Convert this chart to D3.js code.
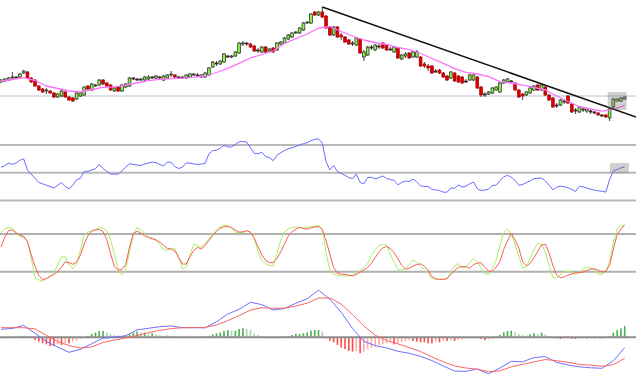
<!DOCTYPE html>
<html>
<head>
<meta charset="utf-8">
<script src="https://cdn.jsdelivr.net/npm/d3@7"></script>
<style>
  body { margin: 0; background: #fff; }
  svg { display: block; }
</style>
</head>
<body>
<div id="chart"></div>
<script>
// --- OHLC (one entry per candle) ---
const opens = [48,49,50,52,53,53,57,58,52,50, 44,41,39,39,37,33,34,38,33,32, 31,34,35,44,40,44,45,50,47,45,
  39,43,39,43,44,52,51,50,50,51, 53,52,53,50,52,55,55,53,52,52, 53,55,55,53,53,55,63,67,66,68,
  74,73,74,77,86,87,86,84,80,78, 83,79,82,80,86,87,91,93,97,97, 100,107,107,118,115,118,114,103,95,103,
  95,93,90,87,85,91,73,75,83,80, 84,87,85,81,78,82,71,74,77,73, 73,73,66,64,64,59,60,57,54,52,
  57,54,53,49,50,50,53,43,36,36, 37,40,38,47,48,49,47,40,36,35, 37,40,45,40,43,35,32,25,25,29,
  34,26,20,18,21,19,19,18,17,15, 15,12,23,29,29,31];
const highs = [51,52,53,58,54,57,60,59,53,51, 45,42,42,40,38,37,40,39,34,33, 38,38,44,45,47,46,51,51,48,46,
  43,44,46,47,53,53,52,52,54,55, 54,55,54,55,56,59,56,54,54,56, 57,57,57,56,58,63,69,69,70,77,
  75,75,79,88,89,88,87,85,82,84, 84,82,83,88,89,93,96,98,99,103, 108,109,117,119,119,123,115,104,104,104,
  97,94,91,89,93,92,80,84,85,86, 87,88,86,83,84,83,76,78,78,79, 80,74,68,66,65,61,61,58,55,59,
  58,55,54,51,56,57,54,44,38,39, 43,44,48,51,52,50,48,41,37,39, 43,45,46,46,44,36,33,27,31,31,
  35,27,22,24,22,22,21,19,18,16, 16,23,32,32,33,34];
const lows = [47,48,49,51,51,52,56,51,47,43, 39,37,36,36,32,32,33,32,29,28, 30,33,34,40,39,43,44,45,43,39,
  38,38,38,42,43,50,49,49,49,50, 51,51,51,49,51,53,52,51,51,51, 52,54,53,52,52,54,62,64,65,67,
  72,72,73,76,84,84,82,78,77,77, 77,78,77,79,85,86,90,92,96,96, 99,106,106,114,114,112,101,94,94,92,
  90,87,85,84,84,76,69,74,80,79, 81,81,79,79,77,71,70,72,71,72, 72,63,62,59,56,57,56,52,49,51,
  48,47,46,47,49,49,41,33,33,35, 36,39,37,46,47,47,39,32,30,34, 36,39,39,39,34,29,22,22,24,26,
  26,17,16,17,18,17,16,16,14,13, 12,9,22,28,28,30];
const closes = [50,51,52,53,52,56,59,52,48,44, 40,38,40,37,33,36,39,33,30,29, 37,37,43,41,46,45,50,46,44,40,
  42,39,45,46,52,51,50,51,53,53, 52,54,52,54,55,56,53,52,53,55, 56,56,54,55,57,62,68,66,69,76,
  73,74,78,87,87,86,83,79,79,83, 78,81,78,87,88,92,95,97,98,102, 107,108,116,115,118,113,102,95,103,93,
  93,88,86,86,92,77,78,83,82,85, 83,82,80,80,83,72,75,76,72,78, 78,64,64,62,57,58,57,53,50,58,
  49,48,47,48,55,55,42,35,35,38, 42,43,47,50,51,48,40,33,34,38, 42,44,40,45,35,30,23,24,30,28,
  27,18,19,23,20,21,18,17,15,14, 13,22,31,31,32,33];

// moving average, read every 3rd candle
const maStep = 3;
const maVals = [49,50.5,52.3,49.5,44,41.5,39,38,40.5,42.7,43.2,44.8,47,49.3,50.7,51.3,51.9,52.8,54,57.5,
  61.6,66.6,72,75.5,79,86.6,91.3,96,102,103.5,98.5,94,90,87.5,85.5,82.5,80.3,76.5,71.5,66.7,
  61.3,57.7,56,53.4,48.3,47,44.8,42.7,40,34,28.5,23.5,21,18.8,20.7,24.7];

// trend line (candle index, price) and marker levels
const trendLine = [[85, 123], [168, 13]];
const priceMark = 34;
const priceBox = { from: 160.5, to: 165.5, low: 20, high: 38 };

// --- RSI ---
const rsiLevels = [30, 50, 70];
const rsiVals = [54,55,57,56,57,59,60,52,49,46, 43,42,41,40,39,41,43,40,38.5,41, 45,46,51,51,52,53,56,53,51,49,
  49,49,51.5,54,56.5,56,55.5,55.3,56.3,57, 57.7,57.3,56,54.8,57.7,57.5,54.5,53,54,57, 57,56.3,56,56.3,56.8,63.5,66,66.3,67.6,69.8,
  68.6,68.5,70.5,72.2,72.6,72.1,68,64,63.7,64.8, 61.6,61,58.7,62.6,64.5,66,67.2,68,69,70, 71,71.7,73.2,74,74.5,71.2,58,52,55.2,51,
  49.5,48.2,46.5,45.8,49,43,42,46.5,46.7,45.6, 46.5,47.7,45.8,45.2,44.5,41.3,43,44,43.7,45.5, 43.3,40.6,40,40.2,38,37.6,37.2,36,36,39,
  38.8,41.2,39.7,40.3,42,43.3,38.5,37.3,37.5,38.2, 40.8,41,44.5,47,48.2,46.7,44.4,41,41.5,42.9, 44.2,45.8,46,46.2,44.2,41,37.7,39.6,40.3,40,
  39.2,37.9,36.5,40.3,39.8,39,38.1,37.5,37,36.6, 36.1,45,51.2,52.3,53.5,54.3];
const rsiBox = { from: 161.1, to: 166.1, low: 49.8, high: 57 };

// --- Stochastic ---
const stochLevels = [20, 80];
const stochK = [82,88.5,90,89,82,76,74.7,69,42,10.5, 7,5,9,13.5,19,31,43.5,44,31,25, 33,54,78,83,85,87.5,90,89,85,70,
  48,23,15,25,52,78,90,87,81,75, 74,70,63,56,54,57.5,57,43,24,28, 47,64,61.5,58.5,65,72,80,87,91.5,94,
  93.5,89,83,82,82.5,85,82.5,74,51,38, 33,30,29.5,49,70,83,88,90,91.5,90.6, 89.5,90,91.7,92.5,93.5,88,50,22,15.5,14.5,
  13.5,13.1,13.1,14.5,18,21.5,26.8,32.8,46,55, 61.5,63,63,48,35,23,23,25,32,38.6, 34.5,28.5,23.5,16.5,9.2,8.3,7.8,7.8,9.5,19,
  28.8,33,25.8,27.8,35,40.5,35,26,16.8,16, 25.5,38,62,82,88,80,63,44,25.7,28.5, 41,54.5,65,64,51.5,31,11,9.6,15.5,19.7,
  21,19.5,15.5,18.8,23.5,27.8,26.4,22.8,16,16.3, 20.6,35,67,88,93,94.3];
const stochD = [59.3,74.9,85.5,86.5,81.8,78.3,76.1,67.7,47,28.5, 14,7.2,9.2,12.2,15.5,20.6,27,35.8,34.5,31.8, 35,46,64,77,84.6,86.5,87.3,84,71,48.7,
  28,23,23.5,31.7,59,81,84.3,81.7,77,74.4, 72.2,70.7,67,62,57,56,53,43,32.2,32.2, 44,54,58.8,56,62,69.5,77.5,84,89.2,91.3,
  92.2,90,86.5,83,83.5,85.3,83,73.3,60,46.5, 38,34.3,34.3,41,51.5,64.5,76.5,83.7,87.9,90.4, 89,87.6,89.5,91,92,87.3,69,47.7,26.6,17.7,
  16,15.7,14.5,13.3,15.8,19,22.7,26.6,33.6,42.4, 51.6,58,60,56.9,50.2,40.5,30,24,25.5,29, 31.5,32.4,28.8,22,12.2,8.6,7.8,7.8,8.9,15.5,
  21.8,27,28.2,28,25.3,31.4,33.7,34.3,26.8,21.2, 20.4,27.3,36,55.5,69,81,70.5,57.5,35.6,29.6, 33.2,42.2,52.7,62.5,63.8,49.8,30,14.3,10.3,11.8,
  14.7,16.3,18.4,18.4,19.5,22.1,24.2,24.5,22.5,19.5, 20.3,30.4,56.1,78.7,88.2,93.8];

// --- MACD (lines read every 3rd candle, histogram per candle) ---
const macdVals = [0.8,0.89,1.19,0.4,-0.42,-0.98,-1.5,-1.2,-0.64,-0.09,0.01,0.16,0.74,0.9,1.06,1.14,0.96,0.97,0.94,1.55,
  2.33,2.8,3.5,3.27,2.73,2.88,3.4,3.85,4.72,3.8,2.5,0.88,-0.4,-0.84,-1.06,-1.4,-1.6,-1.9,-2.33,-2.87,
  -3.37,-3.4,-3.17,-3.65,-3.07,-2.4,-2.45,-2.03,-1.93,-2.5,-2.77,-2.95,-3.05,-3.1,-2.35,-1.04];
const signalVals = [0.96,0.96,0.96,0.84,0.2,-0.42,-0.83,-1.08,-0.97,-0.51,-0.28,-0.06,0.17,0.46,0.7,0.87,0.96,0.96,0.99,1.22,
  1.67,2.18,2.72,2.95,2.9,2.92,3.12,3.42,3.92,3.93,3.32,2.28,1.14,0.2,-0.32,-0.66,-1.03,-1.42,-1.97,-2.45,
  -2.86,-3.07,-3.2,-3.44,-3.36,-2.95,-2.7,-2.46,-2.22,-2.34,-2.5,-2.71,-2.79,-2.89,-2.74,-2.1];
const histVals = [-0.1,-0.1,-0.05,-0.03,0,0.1,0.15,0.05,-0.05,-0.27, -0.43,-0.6,-0.7,-0.87,-0.87,-0.7,-0.77,-0.6,-0.6,-0.43,
  -0.33,-0.17,-0.03,0.13,0.33,0.47,0.63,0.63,0.47,0.33, 0.23,0.17,0.13,0.23,0.3,0.47,0.57,0.47,0.47,0.4,
  0.4,0.3,0.23,0.17,0.17,0.13,0.07,0.03,0.02,0.02, 0.02,0.03,0.03,0.03,0.05,0.15,0.3,0.4,0.47,0.63,
  0.73,0.67,0.67,0.83,0.9,0.83,0.73,0.4,0.23,0.13, 0.02,-0.1,-0.1,-0.1,-0.07,0.03,0.13,0.23,0.33,0.33,
  0.4,0.5,0.67,0.73,0.73,0.57,-0.17,-0.33,-0.5,-0.77, -1.03,-1.17,-1.37,-1.43,-1.37,-1.6,-1.43,-1.17,-1.03,-0.93,
  -0.77,-0.7,-0.6,-0.5,-0.7,-0.6,-0.5,-0.37,-0.27,-0.37, -0.43,-0.5,-0.5,-0.6,-0.6,-0.43,-0.5,-0.37,-0.37,-0.27,
  -0.37,-0.27,-0.2,-0.17,-0.1,-0.1,-0.1,-0.17,-0.27,-0.2, -0.17,-0.1,0.23,0.5,0.63,0.67,0.5,0.33,0.23,0.17,
  0.3,0.4,0.33,0.47,0.33,0.13,-0.1,-0.13,-0.17,-0.13, -0.1,-0.13,-0.17,-0.13,-0.1,-0.13,-0.1,-0.13,-0.1,-0.13,
  -0.1,0.13,0.47,0.73,0.9,1.13];

// ---------------------------------------------------------------
const W = 636, H = 389;
const svg = d3.select('#chart').append('svg')
  .attr('width', W)
  .attr('height', H);

const n = opens.length;
const x = d3.scaleLinear().domain([0, n - 1]).range([1, 624.7]);
const yPrice = d3.scaleLinear().domain([0, 130]).range([130, 0]);
const yRsi = d3.scaleLinear().domain([30, 70]).range([200.5, 145]);
const yStoch = d3.scaleLinear().domain([20, 80]).range([271.7, 234]);
const yMacd = d3.scaleLinear().domain([-4, 4]).range([377.3, 297.3]);

// helper : horizontal full-width line
function hline(y, color, w) {
  svg.append('line')
    .attr('x1', 0).attr('x2', W)
    .attr('y1', y).attr('y2', y)
    .attr('stroke', color)
    .attr('stroke-width', w);
}

// helper : polyline
function drawLine(values, step, yScale, color, width) {
  const line = d3.line()
    .x((d, i) => x(i * step))
    .y(d => yScale(d));
  svg.append('path')
    .datum(values)
    .attr('d', line)
    .attr('fill', 'none')
    .attr('stroke', color)
    .attr('stroke-width', width)
    .attr('stroke-linejoin', 'round');
}

// ---- price panel ----
hline(yPrice(priceMark), '#b4c0d2', 1);

const candles = d3.range(n).map(i => ({ i, o: opens[i], h: highs[i], l: lows[i], c: closes[i] }));

svg.append('g').selectAll('line')
  .data(candles)
  .join('line')
  .attr('x1', d => x(d.i)).attr('x2', d => x(d.i))
  .attr('y1', d => yPrice(d.h)).attr('y2', d => yPrice(d.l))
  .attr('stroke', '#444')
  .attr('stroke-width', 1);

const bodyW = 2.8;
svg.append('g').selectAll('rect')
  .data(candles)
  .join('rect')
  .attr('x', d => x(d.i) - bodyW / 2)
  .attr('width', bodyW)
  .attr('y', d => yPrice(Math.max(d.o, d.c)))
  .attr('height', d => Math.max(0.6, Math.abs(yPrice(d.o) - yPrice(d.c))))
  .attr('fill', d => d.c >= d.o ? '#8cf04c' : '#d80000')
  .attr('stroke', d => d.c >= d.o || Math.abs(d.c - d.o) <= 1 ? '#222' : '#b00000')
  .attr('stroke-width', 0.7);

drawLine(maVals, maStep, yPrice, '#ff70ff', 1.3);

svg.append('line')
  .attr('x1', x(trendLine[0][0])).attr('y1', yPrice(trendLine[0][1]))
  .attr('x2', x(trendLine[1][0])).attr('y2', yPrice(trendLine[1][1]))
  .attr('stroke', '#111')
  .attr('stroke-width', 1.5);

svg.append('rect')
  .attr('x', x(priceBox.from))
  .attr('width', x(priceBox.to) - x(priceBox.from))
  .attr('y', yPrice(priceBox.high))
  .attr('height', yPrice(priceBox.low) - yPrice(priceBox.high))
  .attr('fill', 'rgba(120,120,120,0.35)');

// ---- RSI panel ----
rsiLevels.forEach(v => hline(yRsi(v), '#b8b8b8', 2));
drawLine(rsiVals, 1, yRsi, '#6a6aff', 1);
svg.append('rect')
  .attr('x', x(rsiBox.from))
  .attr('width', x(rsiBox.to) - x(rsiBox.from))
  .attr('y', yRsi(rsiBox.high))
  .attr('height', yRsi(rsiBox.low) - yRsi(rsiBox.high))
  .attr('fill', 'rgba(120,120,120,0.35)');

// ---- Stochastic panel ----
stochLevels.forEach(v => hline(yStoch(v), '#b0b0b0', 2));
drawLine(stochK, 1, yStoch, '#a8f060', 1);
drawLine(stochD, 1, yStoch, '#ff5a5a', 1);

// ---- MACD panel ----
const hist = histVals.map((v, i) => ({ i, v, prev: i > 0 ? histVals[i - 1] : v }));
svg.append('g').selectAll('rect')
  .data(hist)
  .join('rect')
  .attr('x', d => x(d.i) - 0.8)
  .attr('width', 1.6)
  .attr('y', d => yMacd(Math.max(0, d.v)))
  .attr('height', d => Math.abs(yMacd(d.v) - yMacd(0)))
  .attr('fill', d => {
    const grow = Math.abs(d.v) >= Math.abs(d.prev);
    if (d.v >= 0) return grow ? '#4caf50' : '#a8d8a8';
    return grow ? '#ff4a4a' : '#ffaaaa';
  });

hline(yMacd(0), '#8c8c8c', 2);
drawLine(macdVals, 3, yMacd, '#6f6fff', 1);
drawLine(signalVals, 3, yMacd, '#ff6464', 1);
</script>
</body>
</html>
